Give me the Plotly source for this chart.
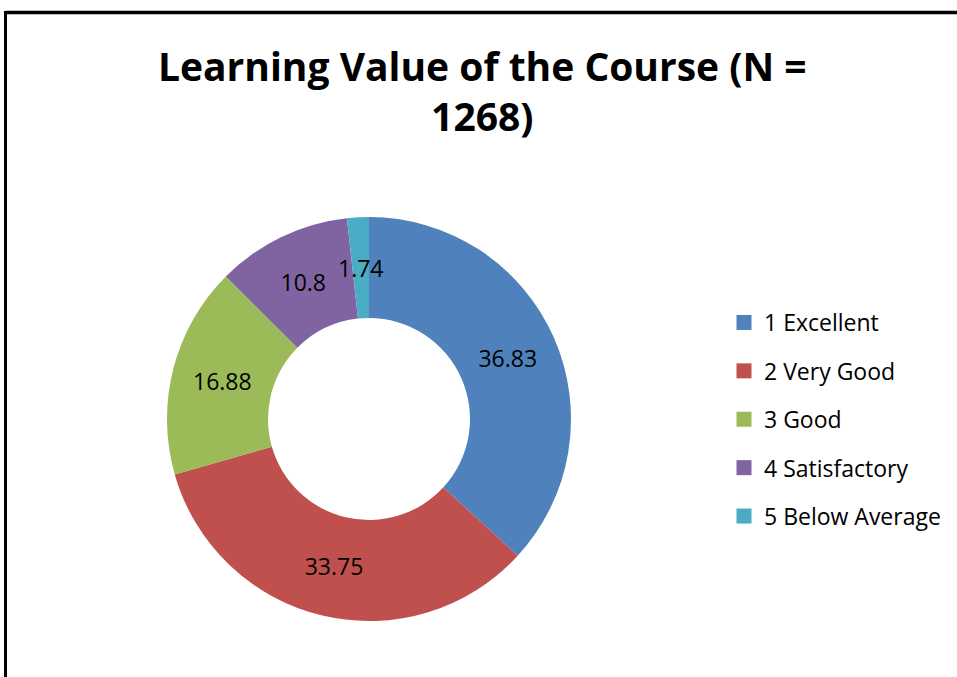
import math
import plotly.graph_objects as go

categories = ["1 Excellent", "2 Very Good", "3 Good", "4 Satisfactory", "5 Below Average"]
values = [36.83, 33.75, 16.88, 10.8, 1.74]
colors = ["#4F81BD", "#C0504D", "#9BBB59", "#8064A2", "#4BACC6"]
title_text = "Learning Value of the Course (N =<br>1268)"

W, H = 957, 677
cx, cy, R = 369, 419, 202
HOLE = 0.5
FONT = "Open Sans"
LABEL_SIZE = 23

# slices too thin for Plotly's inside-text fitting get a label on the ring's mid-radius
thin = [v / sum(values) < 0.03 for v in values]

fig = go.Figure()
fig.add_trace(go.Pie(
    labels=categories,
    values=values,
    marker=dict(colors=colors, line=dict(width=0)),
    hole=HOLE,
    sort=False,
    direction="clockwise",
    rotation=0,
    texttemplate=["" if t else "%{value}" for t in thin],
    textposition="inside",
    insidetextorientation="horizontal",
    textfont=dict(family=FONT, size=LABEL_SIZE, color="black"),
    showlegend=False,
    hoverinfo="label+value",
    domain=dict(x=[(cx - R) / W, (cx + R) / W], y=[1 - (cy + R) / H, 1 - (cy - R) / H]),
))

annotations = []
total = sum(values)
cum = 0.0
for v, t in zip(values, thin):
    mid = (cum + v / 2) / total * 2 * math.pi
    cum += v
    if not t:
        continue
    r = R * (1 + HOLE) / 2
    px = cx + r * math.sin(mid)
    py = cy - r * math.cos(mid)
    annotations.append(dict(text=f"{v}", x=px / W, y=1 - py / H, xref="paper", yref="paper",
                            showarrow=False, xanchor="center", yanchor="middle",
                            font=dict(family=FONT, size=LABEL_SIZE, color="black")))

for lab, col in zip(categories, colors):
    fig.add_trace(go.Scatter(
        x=[None], y=[None], mode="markers",
        marker=dict(symbol="square", size=15, color=col, line=dict(width=0)),
        name=lab, legendgroup=lab, showlegend=True,
    ))

fig.update_layout(
    width=W, height=H,
    margin=dict(l=0, r=0, t=0, b=0),
    paper_bgcolor="white", plot_bgcolor="white",
    title=dict(text=title_text, x=0.504, xanchor="center", y=1 - 80.5 / H, yanchor="middle",
               font=dict(family=FONT, size=39, color="black", weight="bold")),
    uniformtext=dict(minsize=LABEL_SIZE, mode="show"),
    xaxis=dict(visible=False), yaxis=dict(visible=False),
    legend=dict(x=724 / W, xanchor="left", y=1 - 301 / H, yanchor="top",
                font=dict(family=FONT, size=23, color="black"),
                traceorder="grouped", tracegroupgap=15.5, itemclick=False,
                bgcolor="rgba(0,0,0,0)"),
    annotations=annotations,
    shapes=[
        dict(type="line", xref="paper", yref="paper", x0=5.5 / W, x1=1.01, y0=1 - 12.5 / H, y1=1 - 12.5 / H,
             line=dict(color="black", width=3.5)),
        dict(type="line", xref="paper", yref="paper", x0=5.5 / W, x1=5.5 / W, y0=1 - 11 / H, y1=-0.01,
             line=dict(color="black", width=3)),
    ],
)

fig.write_html("out.html", config={"displayModeBar": False},
               post_script="document.body.style.margin='0';")
